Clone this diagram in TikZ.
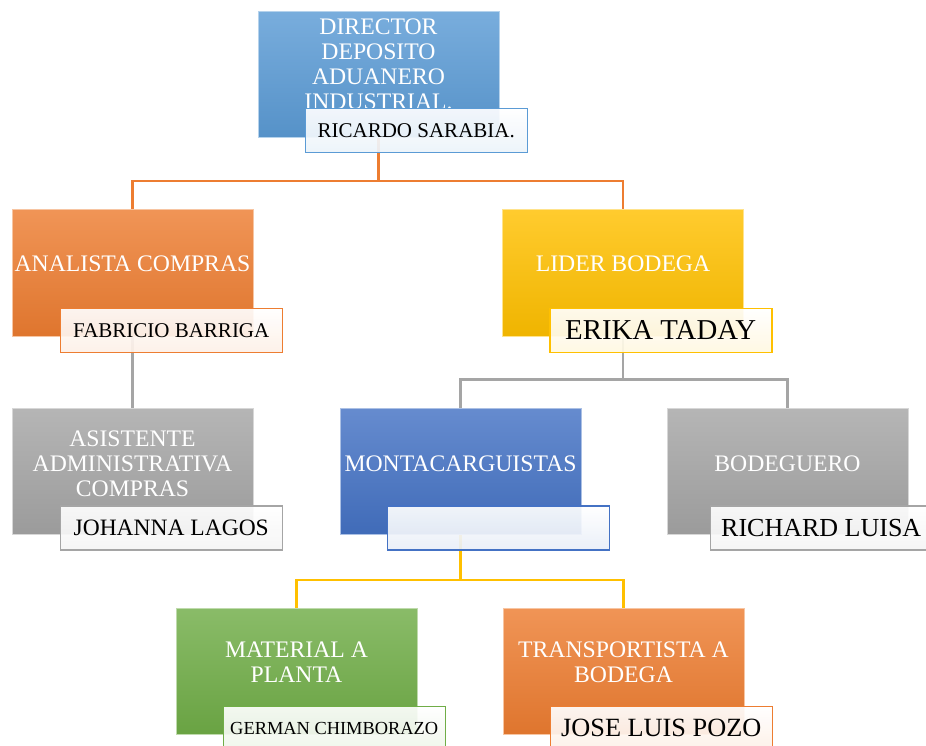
\documentclass[tikz,border=0pt]{standalone}
\usepackage{fontspec}
\setmainfont{Liberation Serif}
\usetikzlibrary{positioning}
\definecolor{azulclaro}{HTML}{5B9BD5}
\definecolor{azul}{HTML}{4472C4}
\definecolor{naranja}{HTML}{ED7D31}
\definecolor{oro}{HTML}{FFC000}
\definecolor{gris}{HTML}{A5A5A5}
\definecolor{verde}{HTML}{70AD47}
\pgfdeclarelayer{fondo}
\pgfsetlayers{fondo,main}

\begin{document}
\begin{tikzpicture}[x=1pt,y=-1pt,
  puesto/.style={rectangle,minimum width=241pt,minimum height=126pt,inner sep=0pt,
    top color=#1!82!white,bottom color=#1!94!black,draw=#1!45!white,line width=1pt},
  titulo/.style={text=white,align=center,inner sep=0pt,font=\fontsize{23.7}{25}\selectfont},
  nombre/.style={rectangle,minimum width=222pt,minimum height=44pt,inner sep=0pt,
    top color=white,bottom color=#1!12!white,draw=#1,line width=1.5pt,fill opacity=0.92,text opacity=1},
  enlace/.style={line width=2.5pt,draw=#1}]
\useasboundingbox (0,0) rectangle (926,746);

\node[puesto=azulclaro] (D) at (378.5,74.5) {};
\node[puesto=naranja] (A) at (132.5,273) {};
\node[puesto=oro] (L) at (623,273) {};
\node[puesto=gris] (S) at (132.5,471.5) {};
\node[puesto=azul] (M) at (460.5,471.5) {};
\node[puesto=gris] (B) at (787.5,471.5) {};
\node[puesto=verde] (P) at (296.5,671) {};
\node[puesto=naranja] (T) at (623.5,671) {};

\node[titulo] (tD) at ([yshift=10pt]D.center) {DIRECTOR\\DEPOSITO\\ADUANERO\\INDUSTRIAL.};
\node[titulo] (tA) at ([yshift=9pt]A.center) {ANALISTA COMPRAS};
\node[titulo] (tL) at ([yshift=9pt]L.center) {LIDER BODEGA};
\node[titulo] (tS) at ([yshift=8pt]S.center) {ASISTENTE\\ADMINISTRATIVA\\COMPRAS};
\node[titulo] (tM) at ([yshift=8pt]M.center) {MONTACARGUISTAS};
\node[titulo] (tB) at ([yshift=8pt]B.center) {BODEGUERO};
\node[titulo] (tP) at ([yshift=9pt]P.center) {MATERIAL A\\PLANTA};
\node[titulo] (tT) at ([yshift=9pt]T.center) {TRANSPORTISTA A\\BODEGA};

\node[nombre=azulclaro,below right=97pt and 47pt of D.north west,font=\fontsize{21}{25}\selectfont] (nD) {RICARDO SARABIA.};
\node[nombre=naranja,below right=98pt and 48pt of A.north west,font=\fontsize{21}{25}\selectfont] (nA) {FABRICIO BARRIGA};
\node[nombre=oro,below right=98pt and 47pt of L.north west,font=\fontsize{28.8}{30}\selectfont] (nL) {ERIKA TADAY};
\node[nombre=gris,below right=97pt and 48pt of S.north west,font=\fontsize{23.5}{25}\selectfont] (nS) {JOHANNA LAGOS};
\node[nombre=azul,below right=97pt and 47pt of M.north west] (nM) {};
\node[nombre=gris,below right=97pt and 47pt of B.north west,font=\fontsize{26}{28}\selectfont,xshift=-4pt] (nB) {RICHARD LUISA};
\node[nombre=verde,below right=98pt and 47pt of P.north west,font=\fontsize{18.4}{22}\selectfont] (nP) {GERMAN CHIMBORAZO};
\node[nombre=naranja,below right=98pt and 47pt of T.north west,font=\fontsize{26.3}{28}\selectfont] (nT) {JOSE LUIS POZO};

\begin{pgfonlayer}{fondo}
\draw[enlace=naranja] (D.south) -- ++(0,43) -| (A.north);
\draw[enlace=naranja] (D.south) -- ++(0,43) -| (L.north);
\draw[enlace=gris] (A.south) -- (S.north);
\draw[enlace=gris] (L.south) -- ++(0,43) -| (M.north);
\draw[enlace=gris] (L.south) -- ++(0,43) -| (B.north);
\draw[enlace=oro] (M.south) -- ++(0,45) -| (P.north);
\draw[enlace=oro] (M.south) -- ++(0,45) -| (T.north);
\end{pgfonlayer}
\end{tikzpicture}
\end{document}
